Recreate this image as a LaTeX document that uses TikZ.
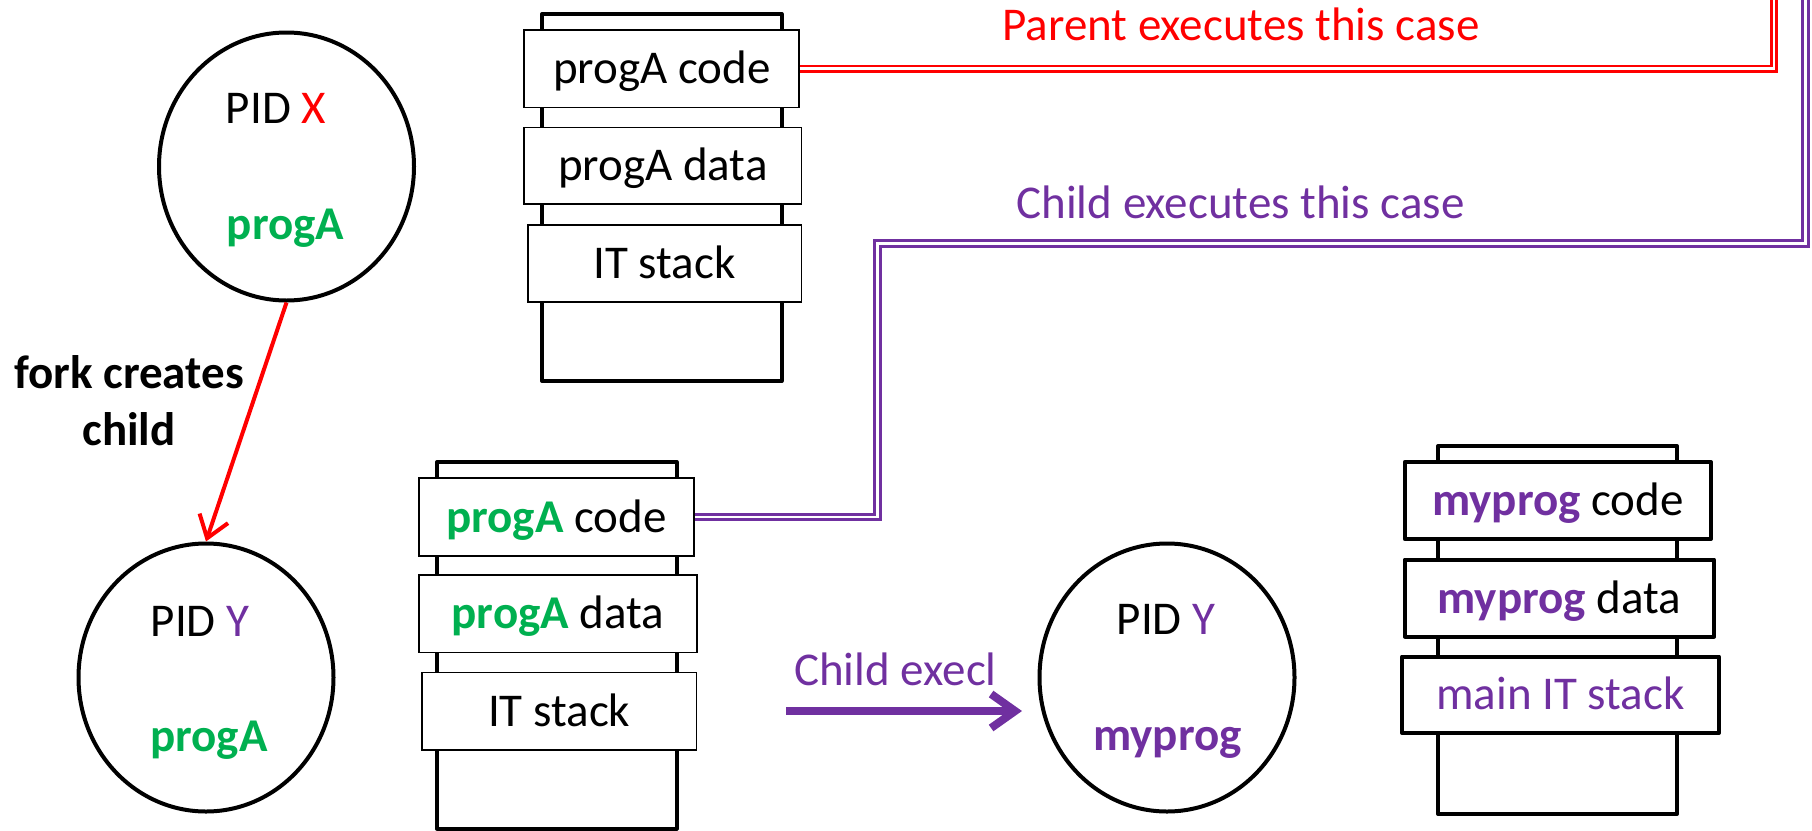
\documentclass[tikz,border=0pt]{standalone}
\usepackage{fontspec}
\setmainfont{Carlito}
\usetikzlibrary{shapes.geometric,arrows.meta}
\definecolor{pgreen}{HTML}{00B050}
\definecolor{ppurple}{HTML}{7030A0}
\definecolor{pred}{HTML}{FF0000}
\tikzset{
  txt/.style={font=\fontsize{47}{57}\selectfont},
  stackouter/.style={draw, line width=4pt, line join=round},
  membox/.style={draw, fill=white, line width=1.8pt, inner sep=0pt, text height=30pt, text depth=0pt, txt},
  memboxthick/.style={membox, line width=4pt, line join=round},
  proc/.style={draw, ellipse, line width=4pt, inner sep=0pt, minimum width=255pt, minimum height=268pt},
  lbl/.style={anchor=base, inner sep=0pt, txt},
  link/.style={line width=2.7pt, double=white, double distance=2.7pt},
  forkarrow/.style={draw=pred, line width=4pt, -{Straight Barb[length=21pt,width=30pt]}},
  execarrow/.style={draw=ppurple, line width=8pt, -{Straight Barb[length=24pt,width=34pt]}},
}
\begin{document}
\begin{tikzpicture}[x=1pt,y=-1pt]
\path[use as bounding box] (0,0) rectangle (1812,830);

% top stack (parent)
\draw[stackouter] (542,14) rectangle (781.5,381);
\node[membox, minimum width=274.7pt, minimum height=77.5pt] (tcode) at (661.7,68.8) {progA code};
\node[membox, minimum width=277.5pt, minimum height=76.5pt] (tdata) at (662.8,165.8) {progA data};
\node[membox, minimum width=273.8pt, minimum height=77.2pt] (tstack) at (664.6,263.4) {IT stack};

% bottom stack (child)
\draw[stackouter] (437,462) rectangle (676.5,828.5);
\node[membox, minimum width=275pt, minimum height=78pt] (bcode) at (556.5,517) {{\bfseries\color{pgreen}progA} code};
\node[membox, minimum width=277.8pt, minimum height=77.5pt] (bdata) at (557.9,613.8) {{\bfseries\color{pgreen}progA} data};
\node[membox, minimum width=274.7pt, minimum height=77.7pt] (bstack) at (559.2,711.3) {IT stack};

% right stack (after execl)
\draw[stackouter] (1438,446) rectangle (1677,814);
\node[memboxthick, minimum width=306.3pt, minimum height=77pt] (rcode) at (1557.9,500.5) {{\bfseries\color{ppurple}myprog} code};
\node[memboxthick, minimum width=309.3pt, minimum height=76.8pt] (rdata) at (1559.4,598.1) {{\bfseries\color{ppurple}myprog} data};
\node[memboxthick, minimum width=317pt, minimum height=76.5pt] (rstack) at (1560.5,694.8) {\color{ppurple}main IT stack};

% processes
\node[proc] (pX) at (286.5,166.5) {};
\node[lbl] (pXid) at (276,123) {PID \textcolor{pred}{X}};
\node[lbl] (pXprog) at (285.5,239) {\bfseries\color{pgreen}progA};

\node[proc] (pY) at (206,677.5) {};
\node[lbl] (pYid) at (200,636) {PID \textcolor{ppurple}{Y}};
\node[lbl] (pYprog) at (209,751) {\bfseries\color{pgreen}progA};

\node[proc] (pZ) at (1167,677.5) {};
\node[lbl] (pZid) at (1166,634) {PID \textcolor{ppurple}{Y}};
\node[lbl] (pZprog) at (1167.5,750) {\bfseries\color{ppurple}myprog};

% fork arrow
\draw[forkarrow] (pX.south) -- (pY.north);
\node[lbl, align=center, font={\fontsize{47}{57}\selectfont\bfseries}] (forklbl) at (129,445) {fork creates\\child};

% execl arrow
\coordinate (execA) at (786,711);
\coordinate (execB) at (1022,711);
\draw[execarrow] (execA) -- (execB);
\node[lbl, text=ppurple] (execlbl) at (895.5,685) {Child execl};

% parent / child case links
\coordinate (redtop) at (1774,-10);
\draw[link, draw=pred] (tcode.east) -| (redtop);
\node[lbl, text=pred] (parentlbl) at (1241,40) {Parent executes this case};

\coordinate (purbend) at (877.5,243.5);
\coordinate (purtop) at (1805.5,-10);
\draw[link, draw=ppurple] (bcode.east) -| (purbend) -| (purtop);
\node[lbl, text=ppurple] (childlbl) at (1240.5,218) {Child executes this case};
\end{tikzpicture}
\end{document}
